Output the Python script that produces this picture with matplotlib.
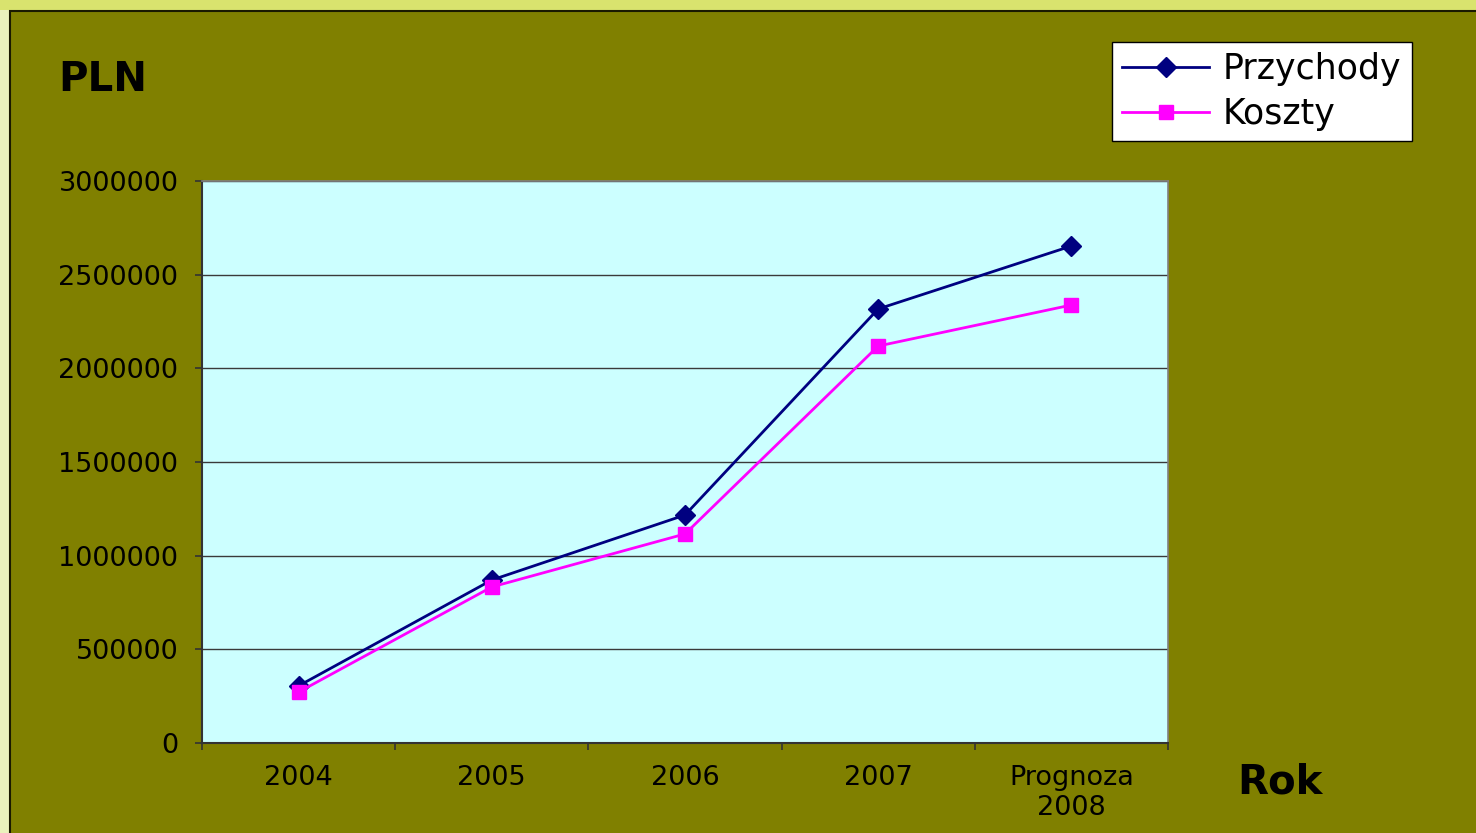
import matplotlib
matplotlib.use("Agg")
import matplotlib.pyplot as plt
from matplotlib.patches import Rectangle
import numpy as np

categories = ["2004", "2005", "2006", "2007", "Prognoza\n2008"]
przychody = [305000, 870000, 1217000, 2317000, 2653000]
koszty = [272000, 833000, 1116000, 2119000, 2338000]
yticks = [0, 500000, 1000000, 1500000, 2000000, 2500000, 3000000]

W, H = 1476, 833
fig = plt.figure(figsize=(W / 100, H / 100), dpi=100)
fig.patch.set_facecolor("#D9E36E")

# left pale strip
fig.add_artist(Rectangle((0, 0), 10 / W, 1 - 10 / H, transform=fig.transFigure,
                         facecolor="#EAF2BC", edgecolor="none", zorder=0))
# olive panel
fig.add_artist(Rectangle((9.5 / W, -0.01), 1.0, 1 - 10.5 / H + 0.01, transform=fig.transFigure,
                         facecolor="#808000", edgecolor="#1a1a00", linewidth=1.5, zorder=0))

font = "DejaVu Sans"
ax = fig.add_axes([202 / W, 90 / H, 966 / W, 562 / H])
ax.set_facecolor("#CCFFFF")
x = np.arange(len(categories))
ax.plot(x, przychody, color="#000080", marker="D", markersize=10, linewidth=2.0,
        label="Przychody", zorder=3, clip_on=False)
ax.plot(x, koszty, color="#FF00FF", marker="s", markersize=10.5, linewidth=2.0,
        label="Koszty", zorder=3, clip_on=False)

ax.set_xlim(-0.5, len(categories) - 0.5)
ax.set_ylim(0, 3000000)
ax.set_yticks(yticks)
ax.set_yticklabels([str(v) for v in yticks], fontsize=19.5, family=font)
ax.yaxis.grid(True, color="#3a3a3a", linewidth=1.0)
ax.set_axisbelow(True)
ax.tick_params(axis="y", direction="out", length=5, width=1.2, color="#333333", pad=12)

ax.set_xticks(x)
ax.set_xticklabels(categories, fontsize=19.5, family=font, linespacing=1.2)
ax.tick_params(axis="x", which="major", length=0, pad=16)
ax.set_xticks(np.arange(-0.5, len(categories), 1.0), minor=True)
ax.tick_params(axis="x", which="minor", direction="out", length=5, width=1.2, color="#333333")

for s in ["top", "right"]:
    ax.spines[s].set_color("#808080")
    ax.spines[s].set_linewidth(1.2)
for s in ["left", "bottom"]:
    ax.spines[s].set_color("#333333")
    ax.spines[s].set_linewidth(1.5)

fig.text(58 / W, 1 - 80 / H, "PLN", fontsize=29, fontweight="bold", family=font,
         ha="left", va="center")
fig.text(1237 / W, 1 - 783 / H, "Rok", fontsize=29, fontweight="bold", family=font,
         ha="left", va="center")

leg = fig.legend(loc="upper left", bbox_to_anchor=(1112 / W, 1 - 42 / H),
                 prop={"family": font, "size": 25}, frameon=True, fancybox=False,
                 borderaxespad=0, handlelength=2.5, handletextpad=0.4,
                 borderpad=0.3, labelspacing=0.3)
leg.get_frame().set_facecolor("white")
leg.get_frame().set_edgecolor("black")
leg.get_frame().set_linewidth(1.0)
leg.get_frame().set_alpha(1)

fig.savefig("out.png", dpi=100, facecolor=fig.get_facecolor())
